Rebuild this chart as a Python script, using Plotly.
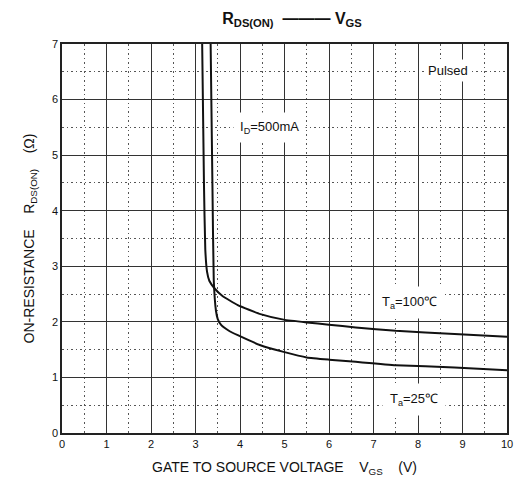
import plotly.graph_objects as go

# Data
vgs_100 = [3.15, 3.19, 3.22, 3.26, 3.31, 3.43, 3.60, 3.95, 4.46, 4.98, 5.50, 6.00, 6.60, 7.50, 8.82, 10.0]
r_100 = [7.0, 4.5, 3.3, 2.9, 2.74, 2.60, 2.47, 2.30, 2.14, 2.04, 1.99, 1.95, 1.90, 1.84, 1.78, 1.73]

vgs_25 = [3.34, 3.38, 3.41, 3.46, 3.50, 3.58, 3.75, 3.95, 4.46, 4.98, 5.50, 6.00, 6.60, 7.50, 8.82, 10.0]
r_25 = [7.0, 4.5, 2.75, 2.20, 2.05, 1.94, 1.84, 1.76, 1.58, 1.46, 1.36, 1.32, 1.28, 1.22, 1.18, 1.13]

x_ticks = [0, 1, 2, 3, 4, 5, 6, 7, 8, 9, 10]
y_ticks = [0, 1, 2, 3, 4, 5, 6, 7]

FONT = "Liberation Sans, Arial, sans-serif"
NB = "\u00a0"

fig = go.Figure()
fig.add_trace(go.Scatter(x=vgs_100, y=r_100, mode="lines",
                         line=dict(color="#111", width=2, shape="spline", smoothing=0.4),
                         showlegend=False))
fig.add_trace(go.Scatter(x=vgs_25, y=r_25, mode="lines",
                         line=dict(color="#111", width=2, shape="spline", smoothing=0.4),
                         showlegend=False))

axis_common = dict(
    showline=True, mirror=True, linecolor="#222", linewidth=1.6,
    showgrid=True, gridcolor="#333", gridwidth=1.4,
    zeroline=False, ticks="", tickfont=dict(family=FONT, size=11, color="#111"),
)
minor_grid = dict(dtick=0.5, showgrid=True, griddash="1.5px,3px", gridcolor="#555", gridwidth=1.2)

fig.update_xaxes(range=[0, 10], tickvals=x_ticks, ticktext=[str(v) for v in x_ticks],
                 minor=minor_grid,
                 title=dict(text="GATE TO SOURCE VOLTAGE" + NB * 4 + "V<sub>GS</sub>" + NB * 4 + "(V)",
                            font=dict(family=FONT, size=14, color="#111"), standoff=13),
                 **axis_common)
fig.update_yaxes(range=[0, 7], tickvals=y_ticks, ticktext=[str(v) for v in y_ticks],
                 minor=minor_grid,
                 title=dict(text="ON-RESISTANCE" + NB * 4 + "R<sub>DS(ON)</sub>" + NB * 4 + "(Ω)",
                            font=dict(family=FONT, size=14, color="#111"), standoff=14),
                 **axis_common)

ann_font = dict(family=FONT, size=13, color="#111")
annotations = [
    dict(x=8.67, y=6.53, text="Pulsed", borderpad=3),
    dict(x=4.67, y=5.5, text="I<sub>D</sub>=500mA", borderpad=6),
    dict(x=7.8, y=2.34, text="T<sub>a</sub>=100℃", borderpad=7),
    dict(x=7.92, y=0.61, text="T<sub>a</sub>=25℃", borderpad=7),
]
for a in annotations:
    fig.add_annotation(xref="x", yref="y", showarrow=False, bgcolor="white",
                       font=ann_font, **a)

fig.update_layout(
    width=520, height=481,
    margin=dict(l=62, r=7, t=44, b=48),
    paper_bgcolor="white", plot_bgcolor="white",
    title=dict(text="<b>R<sub>DS(ON)</sub>" + NB * 2 + "———" + NB + "V<sub>GS</sub></b>",
               x=292 / 520, xanchor="center", y=1 - 18 / 481, yanchor="middle",
               font=dict(family=FONT, size=16, color="#111")),
)

fig.write_html("out.html", config={"displayModeBar": False},
               post_script="document.body.style.margin='0';document.body.style.overflow='hidden';")
